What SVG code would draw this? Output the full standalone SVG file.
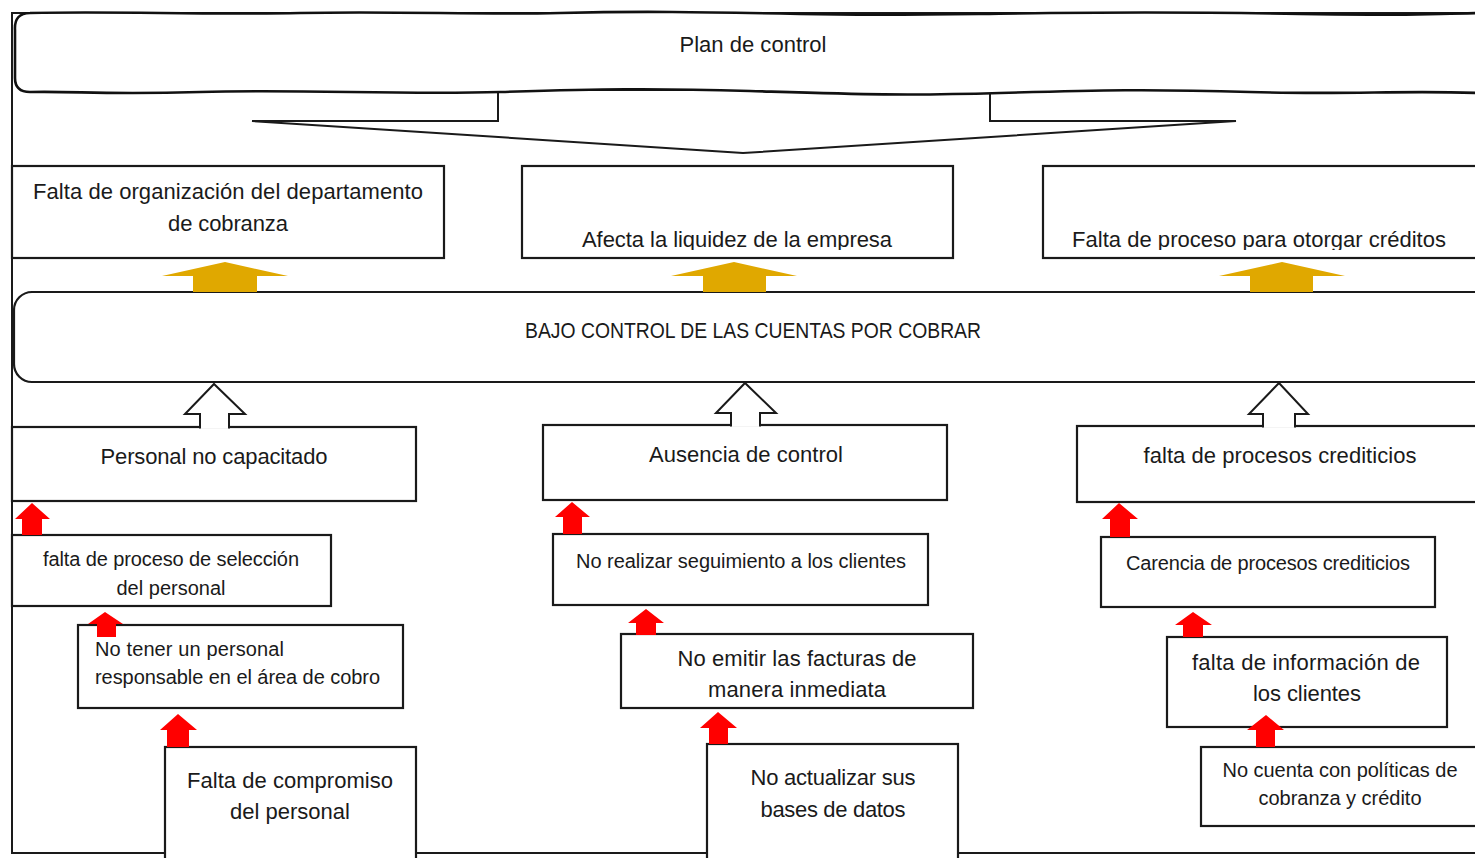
<svg xmlns="http://www.w3.org/2000/svg" width="1475" height="858" viewBox="0 0 1475 858">
<style>
.box{fill:#fff;stroke:#1a1a1a;stroke-width:2.2}
.frame{fill:none;stroke:#1a1a1a;stroke-width:2}
.t{font-family:"Liberation Sans",Arial,sans-serif;fill:#1a1a1a;text-anchor:middle}
.l{font-size:22px}
.s{font-size:20px}
.gold{fill:#E0A800}
.red{fill:#FF0000}
.white{fill:#fff;stroke:#1a1a1a;stroke-width:2;stroke-linejoin:miter}
.wave{fill:#fff;stroke:#111;stroke-width:2.6}
</style>
<defs>
<clipPath id="cut"><rect x="0" y="160" width="1475" height="90"/></clipPath>
</defs>
<rect width="1475" height="858" fill="#fff"/>
<path class="frame" d="M1475,13 H12 V853 H1475"/>

<g id="connectors">
<polygon class="white" points="498,90 990,90 990,121 1236,121 743,153 252,121 498,121"/>
</g>

<g id="plan">
<path class="wave" d="M30,13 C120,11 200,15 300,13 S480,15 560,13 S700,12 800,14 S950,14 1050,13 S1200,12 1300,14 S1420,14 1480,13 L1480,93 C1400,90 1350,95 1250,92 S1100,90 1000,93 S850,94 750,91 S600,89 500,92 S300,89 200,92 S80,91 30,92 Q15,92 15,78 L15,30 Q14,13 30,13 Z"/>
<text class="t l" x="753" y="52" textLength="147">Plan de control</text>
</g>

<g id="efecto1">
<rect class="box" x="12" y="166" width="432" height="92"/>
<text class="t l" x="228" y="199" textLength="390">Falta de organización del departamento</text>
<text class="t l" x="228" y="231" textLength="120">de cobranza</text>
</g>
<g id="efecto2">
<rect class="box" x="522" y="166" width="431" height="92"/>
<text class="t l" x="737" y="247" textLength="310" clip-path="url(#cut)">Afecta la liquidez de la empresa</text>
</g>
<g id="efecto3">
<rect class="box" x="1043" y="166" width="440" height="92"/>
<text class="t l" x="1259" y="247" textLength="374" clip-path="url(#cut)">Falta de proceso para otorgar créditos</text>
</g>

<g id="problema">
<rect class="box" x="14" y="292" width="1490" height="90" rx="18" ry="18"/>
<text class="t" style="font-size:21.5px" x="753" y="338" textLength="456" lengthAdjust="spacingAndGlyphs">BAJO CONTROL DE LAS CUENTAS POR COBRAR</text>
</g>

<g id="causa1">
<rect class="box" x="12" y="427" width="404" height="74"/>
<text class="t l" x="214" y="464" textLength="227">Personal no capacitado</text>
</g>
<g id="causa2">
<rect class="box" x="543" y="425" width="404" height="75"/>
<text class="t l" x="746" y="462" textLength="194">Ausencia de control</text>
</g>
<g id="causa3">
<rect class="box" x="1077" y="426" width="410" height="76"/>
<text class="t l" x="1280" y="463" textLength="273">falta de procesos crediticios</text>
</g>

<g id="sub1a">
<rect class="box" x="12" y="535" width="319" height="71"/>
<text class="t s" x="171" y="566" textLength="256">falta de proceso de selección</text>
<text class="t s" x="171" y="595" textLength="109">del personal</text>
</g>
<g id="sub1b">
<rect class="box" x="78" y="625" width="325" height="83"/>
<text class="t s" x="95" y="656" style="text-anchor:start" textLength="189">No tener un personal</text>
<text class="t s" x="95" y="684" style="text-anchor:start" textLength="285">responsable en el área de cobro</text>
</g>
<g id="sub1c">
<rect class="box" x="165" y="747" width="251" height="120"/>
<text class="t l" x="290" y="788" textLength="206">Falta de compromiso</text>
<text class="t l" x="290" y="819" textLength="120">del personal</text>
</g>

<g id="sub2a">
<rect class="box" x="553" y="534" width="375" height="71"/>
<text class="t s" x="741" y="568" textLength="330">No realizar seguimiento a los clientes</text>
</g>
<g id="sub2b">
<rect class="box" x="621" y="634" width="352" height="74"/>
<text class="t l" x="797" y="666" textLength="239">No emitir las facturas de</text>
<text class="t l" x="797" y="697" textLength="178">manera inmediata</text>
</g>
<g id="sub2c">
<rect class="box" x="707" y="744" width="251" height="124"/>
<text class="t l" x="833" y="785" textLength="165">No actualizar sus</text>
<text class="t l" x="833" y="817" textLength="145">bases de datos</text>
</g>

<g id="sub3a">
<rect class="box" x="1101" y="537" width="334" height="70"/>
<text class="t s" x="1268" y="570" textLength="284">Carencia de procesos crediticios</text>
</g>
<g id="sub3b">
<rect class="box" x="1167" y="637" width="280" height="90"/>
<text class="t l" x="1306" y="670" textLength="228">falta de información de</text>
<text class="t l" x="1307" y="701" textLength="108">los clientes</text>
</g>
<g id="sub3c">
<rect class="box" x="1201" y="747" width="290" height="79"/>
<text class="t s" x="1340" y="777" textLength="235">No cuenta con políticas de</text>
<text class="t s" x="1340" y="805" textLength="163">cobranza y crédito</text>
</g>

<g id="arrows">
<polygon class="gold" points="225,262 288,276 257,276 257,292 193,292 193,276 162,276"/>
<polygon class="gold" points="734,262 797,276 766,276 766,292 703,292 703,276 671,276"/>
<polygon class="gold" points="1282,262 1345,276 1313,276 1313,292 1250,292 1250,276 1219,276"/>

<path class="white" d="M200,428.6 V414 H185 L214,384 L245,414 H229 V428.6"/>
<path class="white" d="M731,426.6 V413 H716 L745,383 L776,413 H760 V426.6"/>
<path class="white" d="M1263,427.6 V414 H1249 L1279,383 L1308,414 H1295 V427.6"/>

<polygon class="red" points="32,503 50,519 42,519 42,535 22,535 22,519 15,519"/>
<polygon class="red" points="105,612 123,624 116,624 116,637 97,637 97,624 88,624"/>
<polygon class="red" points="178,714 197,730 189,730 189,747 167,747 167,730 160,730"/>
<polygon class="red" points="572,502 590,517 582,517 582,534 563,534 563,517 555,517"/>
<polygon class="red" points="646,609 664,623 656,623 656,635 636,635 636,623 628,623"/>
<polygon class="red" points="718,712 737,728 728,728 728,744 709,744 709,728 700,728"/>
<polygon class="red" points="1119,503 1138,519 1130,519 1130,537 1110,537 1110,519 1102,519"/>
<polygon class="red" points="1193,612 1212,625 1203,625 1203,637 1183,637 1183,625 1175,625"/>
<polygon class="red" points="1266,715 1284,730 1275,730 1275,747 1256,747 1256,730 1247,730"/>
</g>
</svg>
